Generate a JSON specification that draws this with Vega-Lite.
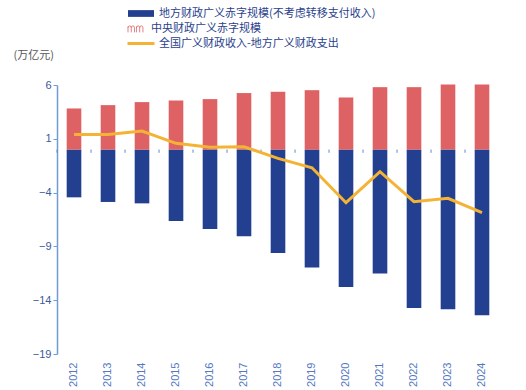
{
  "$schema": "https://vega.github.io/schema/vega-lite/v6.json",
  "width": 442,
  "height": 269,
  "autosize": {"type": "none"},
  "padding": {"left": 57, "top": 85, "right": 27, "bottom": 36},
  "background": "white",
  "config": {
    "view": {"stroke": null},
    "font": "Liberation Sans, Noto Sans CJK SC",
    "axis": {"grid": false}
  },
  "data": {
    "values": [
      {"year": "2012", "series": "地方财政广义赤字规模(不考虑转移支付收入)", "value": -4.44},
      {"year": "2013", "series": "地方财政广义赤字规模(不考虑转移支付收入)", "value": -4.87},
      {"year": "2014", "series": "地方财政广义赤字规模(不考虑转移支付收入)", "value": -5.0},
      {"year": "2015", "series": "地方财政广义赤字规模(不考虑转移支付收入)", "value": -6.64},
      {"year": "2016", "series": "地方财政广义赤字规模(不考虑转移支付收入)", "value": -7.38},
      {"year": "2017", "series": "地方财政广义赤字规模(不考虑转移支付收入)", "value": -8.06},
      {"year": "2018", "series": "地方财政广义赤字规模(不考虑转移支付收入)", "value": -9.61},
      {"year": "2019", "series": "地方财政广义赤字规模(不考虑转移支付收入)", "value": -10.97},
      {"year": "2020", "series": "地方财政广义赤字规模(不考虑转移支付收入)", "value": -12.77},
      {"year": "2021", "series": "地方财政广义赤字规模(不考虑转移支付收入)", "value": -11.53},
      {"year": "2022", "series": "地方财政广义赤字规模(不考虑转移支付收入)", "value": -14.72},
      {"year": "2023", "series": "地方财政广义赤字规模(不考虑转移支付收入)", "value": -14.84},
      {"year": "2024", "series": "地方财政广义赤字规模(不考虑转移支付收入)", "value": -15.4},
      {"year": "2012", "series": "中央财政广义赤字规模", "value": 3.82},
      {"year": "2013", "series": "中央财政广义赤字规模", "value": 4.13},
      {"year": "2014", "series": "中央财政广义赤字规模", "value": 4.41},
      {"year": "2015", "series": "中央财政广义赤字规模", "value": 4.56},
      {"year": "2016", "series": "中央财政广义赤字规模", "value": 4.69},
      {"year": "2017", "series": "中央财政广义赤字规模", "value": 5.25},
      {"year": "2018", "series": "中央财政广义赤字规模", "value": 5.37},
      {"year": "2019", "series": "中央财政广义赤字规模", "value": 5.52},
      {"year": "2020", "series": "中央财政广义赤字规模", "value": 4.84},
      {"year": "2021", "series": "中央财政广义赤字规模", "value": 5.8},
      {"year": "2022", "series": "中央财政广义赤字规模", "value": 5.8},
      {"year": "2023", "series": "中央财政广义赤字规模", "value": 6.05},
      {"year": "2024", "series": "中央财政广义赤字规模", "value": 6.05},
      {"year": "2012", "series": "全国广义财政收入-地方广义财政支出", "value": 1.41},
      {"year": "2013", "series": "全国广义财政收入-地方广义财政支出", "value": 1.41},
      {"year": "2014", "series": "全国广义财政收入-地方广义财政支出", "value": 1.72},
      {"year": "2015", "series": "全国广义财政收入-地方广义财政支出", "value": 0.58},
      {"year": "2016", "series": "全国广义财政收入-地方广义财政支出", "value": 0.22},
      {"year": "2017", "series": "全国广义财政收入-地方广义财政支出", "value": 0.26},
      {"year": "2018", "series": "全国广义财政收入-地方广义财政支出", "value": -0.82},
      {"year": "2019", "series": "全国广义财政收入-地方广义财政支出", "value": -1.69},
      {"year": "2020", "series": "全国广义财政收入-地方广义财政支出", "value": -4.94},
      {"year": "2021", "series": "全国广义财政收入-地方广义财政支出", "value": -2.06},
      {"year": "2022", "series": "全国广义财政收入-地方广义财政支出", "value": -4.85},
      {"year": "2023", "series": "全国广义财政收入-地方广义财政支出", "value": -4.53},
      {"year": "2024", "series": "全国广义财政收入-地方广义财政支出", "value": -5.87}
    ]
  },
  "encoding": {
    "x": {
      "field": "year",
      "type": "ordinal",
      "scale": {"paddingInner": 0.57, "paddingOuter": 0.285},
      "axis": {
        "title": null,
        "domain": false,
        "ticks": false,
        "labelAngle": 270,
        "labelAlign": "right",
        "labelBaseline": "middle",
        "labelPadding": 8,
        "labelFontSize": 11,
        "labelColor": "#5577c2"
      }
    },
    "y": {
      "type": "quantitative",
      "scale": {"domain": [-19, 6], "nice": false, "zero": false},
      "axis": {
        "values": [6, 1, -4, -9, -14, -19],
        "domainColor": "#6f9bd8",
        "domainWidth": 1.5,
        "tickColor": "#6f9bd8",
        "tickSize": 4,
        "labelPadding": 2,
        "labelFontSize": 11,
        "labelColor": "#3c5a9a",
        "title": "(万亿元)",
        "titleAngle": 0,
        "titleAlign": "left",
        "titleBaseline": "bottom",
        "titleX": -44,
        "titleY": -25,
        "titleFontSize": 11,
        "titleFontWeight": "normal",
        "titleColor": "#555555",
        "titleFont": "Noto Sans CJK SC"
      }
    }
  },
  "layer": [
    {
      "transform": [{"filter": "datum.series !== '全国广义财政收入-地方广义财政支出'"}],
      "mark": {"type": "bar"},
      "encoding": {
        "y": {"field": "value", "type": "quantitative", "stack": null},
        "color": {
          "field": "series",
          "type": "nominal",
          "scale": {
            "domain": ["地方财政广义赤字规模(不考虑转移支付收入)", "中央财政广义赤字规模", "全国广义财政收入-地方广义财政支出"],
            "range": ["#233f8f", "#de6264", "#f5b335"]
          },
          "legend": {
            "title": null,
            "orient": "none",
            "legendX": 78.5,
            "legendY": -77,
            "direction": "vertical",
            "padding": 0,
            "rowPadding": 3,
            "symbolSize": 225,
            "labelOffset": 12.5,
            "labelFont": "Noto Sans CJK SC",
            "labelFontSize": 11,
            "labelColor": "#2b3f8c",
            "labelLimit": 400,
            "encode": {
              "symbols": {
                "update": {
                  "shape": {"signal": "datum.index == 1 ? 'M-1.733,0.52V-0.26M-1.733,-0.087Q-1.733,-0.347 -1.517,-0.347Q-1.3,-0.347 -1.3,-0.087V0.52M-1.3,-0.087Q-1.3,-0.347 -1.083,-0.347Q-0.867,-0.347 -0.867,-0.087V0.52M-0.607,0.52V-0.26M-0.607,-0.087Q-0.607,-0.347 -0.39,-0.347Q-0.173,-0.347 -0.173,-0.087V0.52M-0.173,-0.087Q-0.173,-0.347 0.043,-0.347Q0.26,-0.347 0.26,-0.087V0.52' : datum.index == 2 ? 'M-1.8,0H1.8' : 'M-1.733,-0.45H1.733V0.45H-1.733Z'"},
                  "fill": {"signal": "datum.index == 0 ? '#233f8f' : 'transparent'"},
                  "fillOpacity": {"signal": "datum.index == 0 ? 1 : 0"},
                  "stroke": {"signal": "datum.index == 1 ? '#de6264' : datum.index == 2 ? '#f5b335' : '#233f8f'"},
                  "strokeOpacity": {"signal": "datum.index == 0 ? 0 : 1"},
                  "strokeWidth": {"signal": "datum.index == 2 ? 3 : 0.8"},
                  "opacity": {"value": 1}
                }
              },
              "labels": {
                "update": {
                  "dx": {"signal": "datum.index == 1 ? -8 : 0"}
                }
              }
            }
          }
        }
      }
    },
    {
      "mark": {"type": "rule", "color": "#5b8ad0", "strokeWidth": 1.5},
      "encoding": {"y": {"datum": 0}}
    },
    {
      "transform": [{"filter": "datum.series === '中央财政广义赤字规模'"}],
      "mark": {"type": "rule", "color": "#5b8ad0", "strokeWidth": 1},
      "encoding": {
        "x": {"field": "year", "type": "ordinal", "bandPosition": -0.66},
        "y": {"datum": 0},
        "y2": {"datum": -0.3}
      }
    },
    {
      "transform": [{"filter": "datum.series === '全国广义财政收入-地方广义财政支出'"}],
      "mark": {"type": "line", "strokeWidth": 3},
      "encoding": {
        "y": {"field": "value", "type": "quantitative"},
        "color": {"field": "series", "type": "nominal"}
      }
    }
  ]
}
